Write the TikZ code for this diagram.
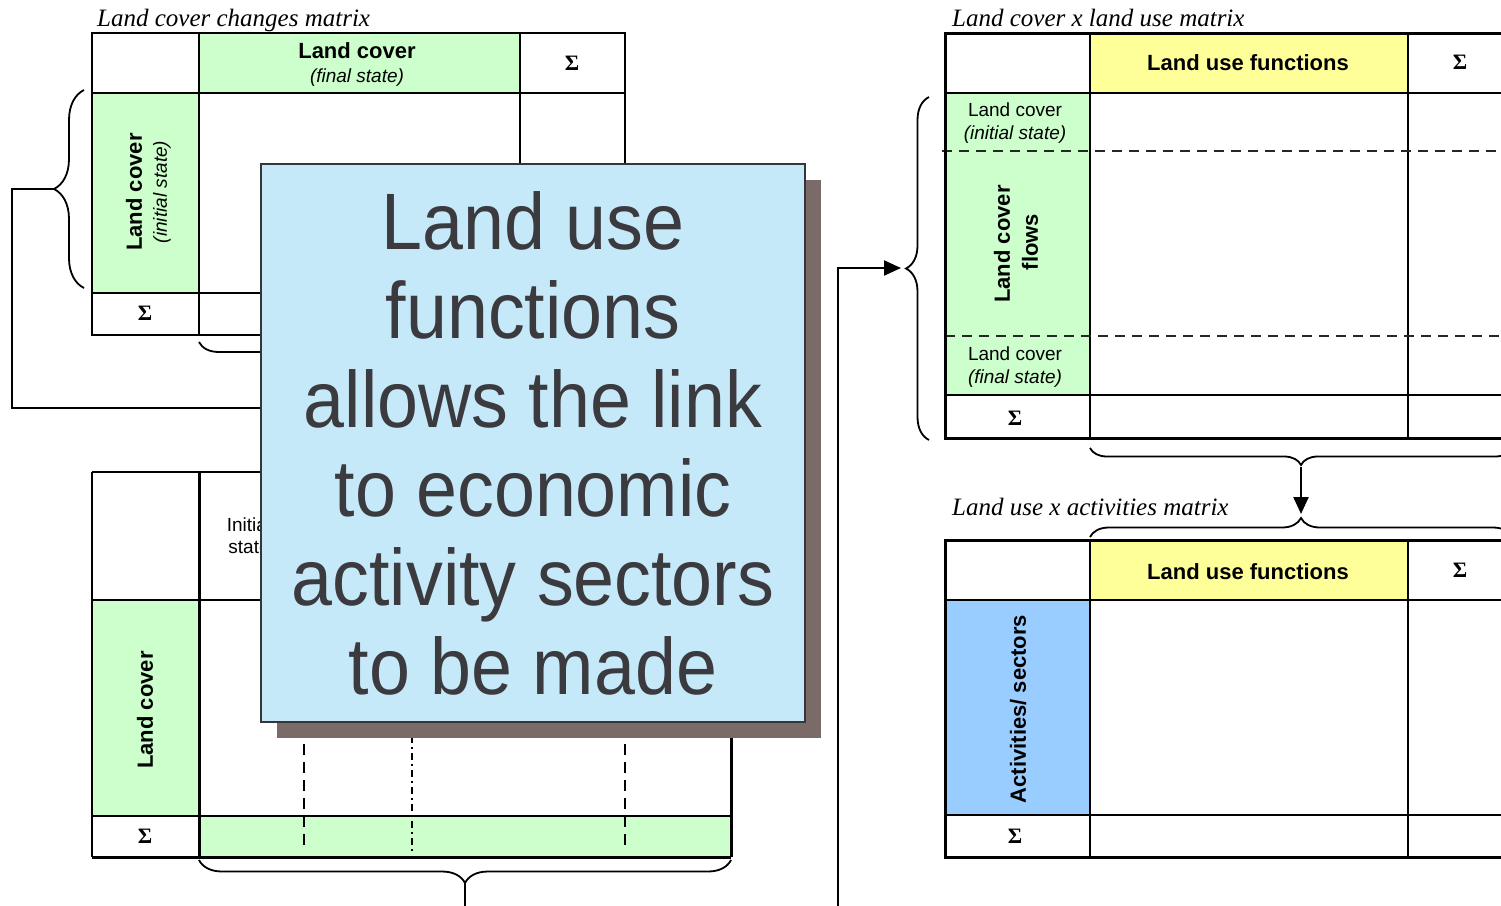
\documentclass[tikz,border=0pt]{standalone}
\usepackage{fontspec}
\setmainfont{Liberation Sans}
\newfontfamily\titlefont{Liberation Serif}
\newfontfamily\notefont[FakeStretch=0.92]{Liberation Sans}
\usetikzlibrary{decorations.pathreplacing,arrows.meta}

\definecolor{lcgreen}{HTML}{CCFFCC}
\definecolor{luyellow}{HTML}{FFFF99}
\definecolor{actblue}{HTML}{99CCFF}
\definecolor{notefill}{HTML}{C6E9F9}
\definecolor{noteedge}{HTML}{36363A}
\definecolor{noteshadow}{HTML}{7A6B68}
\definecolor{notetext}{HTML}{3B3A3F}

\tikzset{
  rule/.style={line width=1.8pt, black},
  thickrule/.style={line width=3pt, black},
  cellhead/.style={font=\fontsize{22}{24}\selectfont\bfseries, inner sep=0pt},
  cellsub/.style={font=\fontsize{19}{22}\selectfont\itshape, inner sep=0pt},
  cellplain/.style={font=\fontsize{19}{22}\selectfont, inner sep=0pt},
  sigma/.style={font=\titlefont\fontsize{22}{24}\selectfont\bfseries, inner sep=0pt},
  mtitle/.style={font=\titlefont\fontsize{25}{28}\selectfont\itshape, anchor=base west, inner sep=0pt},
  bracepath/.style={decorate, line width=1.8pt, decoration={brace, amplitude=#1}},
  link/.style={line width=2.6pt},
  flowline/.style={line width=2.2pt, -{Triangle[length=17pt,width=15pt]}},
  rowcut/.style={line width=2pt, dash pattern=on 10pt off 7pt, black!85},
  colcut/.style={line width=1.8pt, dash pattern=on 11pt off 7pt},
  colcutfine/.style={line width=1.8pt, dash pattern=on 7pt off 4pt on 2pt off 4pt},
}

\begin{document}
\begin{tikzpicture}[x=1pt, y=-1pt]
\useasboundingbox (0,0) rectangle (1501,905);
\clip (0,0) rectangle (1501,905);
\fill[white] (0,0) rectangle (1501,905);

% ---------- Land cover changes matrix ----------
\node[mtitle] (t1) at (97,26) {Land cover changes matrix};
\fill[lcgreen] (199,33) rectangle (520,93);
\fill[lcgreen] (92,93) rectangle (199,293);
\draw[rule] (92,33) rectangle (625,335);
\draw[rule] (199,33) -- (199,335);
\draw[rule] (520,33) -- (520,335);
\draw[rule] (92,93) -- (625,93);
\draw[rule] (92,293) -- (625,293);
\node[cellhead] (a1) at (357,51) {Land cover};
\node[cellsub]  (a2) at (357,78) {(final state)};
\node[sigma]    (a3) at (572,63) {Σ};
\node[cellhead, rotate=90] (a4) at (134,192) {Land cover};
\node[cellsub, rotate=90]  (a5) at (162,192) {(initial state)};
\node[sigma]    (a6) at (145,313) {Σ};

% ---------- second land cover table ----------
\fill[lcgreen] (92,600) rectangle (199,816);
\fill[lcgreen] (199,816) rectangle (731,857);
\draw[rule] (92,472) -- (731,472);
\draw[rule] (92,472) -- (92,857);
\draw[rule] (92,600) -- (731,600);
\draw[rule] (92,816) -- (731,816);
\draw[colcut] (304,600) -- (304,850);
\draw[colcutfine] (412,600) -- (412,852);
\draw[colcut] (625,600) -- (625,850);
\draw[thickrule] (199,472) -- (199,857);
\draw[thickrule] (731,472) -- (731,857);
\draw[thickrule] (92,857) -- (731,857);
\node[cellplain, align=center] (b1) at (249,536) {Initial\\state};
\node[cellhead, rotate=90] (b2) at (145,710) {Land cover};
\node[sigma] (b3) at (145,836) {Σ};

% ---------- Land cover x land use matrix ----------
\node[mtitle] (t2) at (952,26) {Land cover x land use matrix};
\fill[luyellow] (1090,33) rectangle (1408,93);
\fill[lcgreen] (945,93) rectangle (1090,395);
\draw[rule] (1090,33) -- (1090,438);
\draw[rule] (1408,33) -- (1408,438);
\draw[rule] (945,93) -- (1520,93);
\draw[rule] (945,395) -- (1520,395);
\draw[rowcut] (942,151) -- (1520,151);
\draw[rowcut] (945,336) -- (1520,336);
\draw[thickrule] (1520,33) -- (945,33) -- (945,438) -- (1520,438);
\node[cellhead] (c1) at (1248,63) {Land use functions};
\node[sigma]    (c2) at (1460,62) {Σ};
\node[cellplain] (c3) at (1015,110) {Land cover};
\node[cellsub]   (c4) at (1015,135) {(initial state)};
\node[cellhead, rotate=90] (c5) at (1002,244) {Land cover};
\node[cellhead, rotate=90] (c6) at (1030,242) {flows};
\node[cellplain] (c7) at (1015,354) {Land cover};
\node[cellsub]   (c8) at (1015,379) {(final state)};
\node[sigma]     (c9) at (1015,418) {Σ};

% ---------- Land use x activities matrix ----------
\node[mtitle] (t3) at (952,515) {Land use x activities matrix};
\fill[luyellow] (1090,540) rectangle (1408,600);
\fill[actblue] (945,600) rectangle (1090,815);
\draw[rule] (1090,540) -- (1090,857);
\draw[rule] (1408,540) -- (1408,857);
\draw[rule] (945,600) -- (1520,600);
\draw[rule] (945,815) -- (1520,815);
\draw[thickrule] (1520,540) -- (945,540) -- (945,857) -- (1520,857);
\node[cellhead] (d1) at (1248,572) {Land use functions};
\node[sigma]    (d2) at (1460,570) {Σ};
\node[cellhead, rotate=90] (d3) at (1018,709) {Activities/ sectors};
\node[sigma]    (d4) at (1015,836) {Σ};

% ---------- braces ----------
\draw[bracepath=30pt] (84,288) -- (84,90);
\coordinate (lbtip) at (54,189);
\draw[bracepath=20pt] (520,342) -- (199,342);
\draw[bracepath=23pt] (929,440) -- (929,97);
\coordinate (rbtip) at (906,268);
\draw[bracepath=17pt] (1512,448) -- (1090,448);
\coordinate (ubtip) at (1301,465);
\draw[bracepath=19pt] (1090,537) -- (1512,537);
\coordinate (dbtip) at (1301,518);
\draw[bracepath=23pt] (731,860) -- (199,860);
\coordinate (bbtip) at (465,883);

% ---------- connectors ----------
\coordinate (lcorner) at (12,408);
\coordinate (notein) at (262,408);
\draw[link] (lbtip) -| (lcorner) -- (notein);
\coordinate (rfoot) at (838,915);
\draw[flowline, shorten >=5pt] (rfoot) |- (rbtip);
\draw[flowline, shorten <=2pt, shorten >=4pt] (ubtip) -- (dbtip);
\coordinate (bfoot) at (465,915);
\draw[line width=2pt] (bbtip) -- (bfoot);

% ---------- note ----------
\fill[noteshadow] (277,180) rectangle (821,738);
\node[draw=noteedge, line width=2pt, fill=notefill, inner sep=0pt,
      minimum width=544pt, minimum height=558pt, text=notetext,
      align=center, font=\notefont\fontsize{80}{89}\selectfont] (note) at (533,443)
  {Land use\\functions\\allows the link\\to economic\\activity sectors\\to be made};
\end{tikzpicture}
\end{document}
